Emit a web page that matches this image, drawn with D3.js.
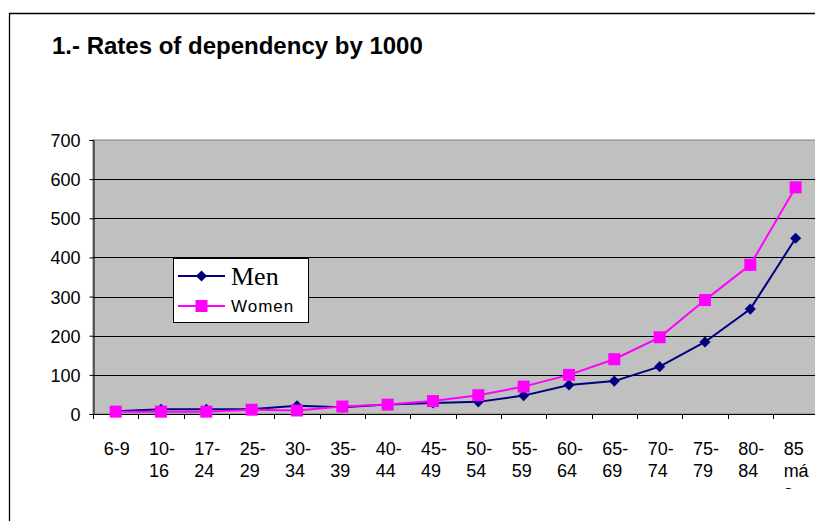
<!DOCTYPE html>
<html>
<head>
<meta charset="utf-8">
<script src="https://cdn.jsdelivr.net/npm/d3@7"></script>
<style>
  body { margin: 0; background: #fff; }
  svg text { font-family: "Liberation Sans", Arial, sans-serif; }
</style>
</head>
<body>
<div id="chart"></div>
<script>
// age groups (labels wrap like the original spreadsheet)
var categories = ["6-9", "10-16", "17-24", "25-29", "30-34", "35-39", "40-44", "45-49",
                  "50-54", "55-59", "60-64", "65-69", "70-74", "75-79", "80-84", "85 más"];
var labelLines = [["6-9"], ["10-", "16"], ["17-", "24"], ["25-", "29"], ["30-", "34"],
                  ["35-", "39"], ["40-", "44"], ["45-", "49"], ["50-", "54"], ["55-", "59"],
                  ["60-", "64"], ["65-", "69"], ["70-", "74"], ["75-", "79"], ["80-", "84"],
                  ["85", "má", "s"]];

var men   = [7, 12, 12, 12, 21, 17, 24, 28, 31, 47, 74, 84, 121, 184, 268, 449];
var women = [6, 6, 6, 11, 9, 19, 24, 33, 48, 70, 100, 140, 196, 291, 381, 579];

var yTicks = [0, 100, 200, 300, 400, 500, 600, 700];

var W = 815, H = 521;
var plot = { left: 93, right: 818.3, top: 140, bottom: 414 };

var svg = d3.select("#chart").append("svg")
    .attr("width", W)
    .attr("height", H);

// outer chart frame
svg.append("path")
    .attr("d", "M9.5," + H + "V13.5H" + W)
    .attr("fill", "none")
    .attr("stroke", "#000")
    .attr("stroke-width", 1.3);

svg.append("text")
    .attr("x", 52)
    .attr("y", 54)
    .style("font-size", "24px")
    .style("font-weight", "bold")
    .text("1.- Rates of dependency by 1000");

var x = d3.scaleBand().domain(categories).range([plot.left, plot.right]);
var y = d3.scaleLinear().domain([0, 700]).range([plot.bottom, plot.top]);

// plot area
svg.append("rect")
    .attr("x", plot.left)
    .attr("y", plot.top)
    .attr("width", plot.right - plot.left)
    .attr("height", plot.bottom - plot.top)
    .attr("fill", "#c0c0c0")
    .attr("stroke", "#808080")
    .attr("stroke-width", 1);

// gridlines
svg.append("g").selectAll("line")
    .data(yTicks.filter(function(d) { return d > 0 && d < 700; }))
    .enter().append("line")
    .attr("x1", plot.left)
    .attr("x2", plot.right)
    .attr("y1", function(d) { return Math.round(y(d)) + 0.5; })
    .attr("y2", function(d) { return Math.round(y(d)) + 0.5; })
    .attr("stroke", "#000")
    .attr("stroke-width", 1);

// y axis
var yAxis = svg.append("g")
    .attr("transform", "translate(" + (plot.left + 0.5) + ",0)")
    .call(d3.axisLeft(y).tickValues(yTicks).tickSize(4).tickPadding(9));
yAxis.select(".domain").attr("stroke", "#000");
yAxis.selectAll("line").attr("stroke", "#000");
yAxis.selectAll("text")
    .attr("dy", "0.36em")
    .style("font-size", "18px")
    .style("font-family", "Liberation Sans, Arial, sans-serif")
    .attr("fill", "#000");

// x axis: ticks at band boundaries
var boundaries = categories.map(function(c) { return x(c); }).concat([plot.right]);
var xAxis = svg.append("g");
xAxis.append("line")
    .attr("x1", plot.left)
    .attr("x2", plot.right)
    .attr("y1", plot.bottom + 0.5)
    .attr("y2", plot.bottom + 0.5)
    .attr("stroke", "#000");
xAxis.selectAll(".tk")
    .data(boundaries)
    .enter().append("line")
    .attr("class", "tk")
    .attr("x1", function(d) { return Math.round(d) + 0.5; })
    .attr("x2", function(d) { return Math.round(d) + 0.5; })
    .attr("y1", plot.bottom)
    .attr("y2", plot.bottom + 5)
    .attr("stroke", "#000");

svg.append("clipPath").attr("id", "lblclip")
    .append("rect").attr("x", 0).attr("y", 0).attr("width", W).attr("height", 489);

var labels = svg.append("g").attr("clip-path", "url(#lblclip)")
    .selectAll("text")
    .data(categories)
    .enter().append("text")
    .attr("x", function(d) { return x(d) + x.bandwidth() / 2 - 12; })
    .attr("y", 455)
    .style("font-size", "18px");
labels.each(function(d, i) {
    var t = d3.select(this);
    labelLines[i].forEach(function(line, j) {
        t.append("tspan")
            .attr("x", x(d) + x.bandwidth() / 2 - 12)
            .attr("y", 455 + j * 21.7)
            .text(line);
    });
});

var line = d3.line()
    .x(function(d, i) { return x(categories[i]) + x.bandwidth() / 2; })
    .y(function(d) { return y(d); });

// square turned 45 degrees, like the spreadsheet diamond
var diamond = d3.symbol().type(d3.symbolSquare).size(62);

// Men
svg.append("path")
    .datum(men)
    .attr("d", line)
    .attr("fill", "none")
    .attr("stroke", "#000080")
    .attr("stroke-width", 2);
svg.append("g").selectAll("path")
    .data(men)
    .enter().append("path")
    .attr("d", diamond)
    .attr("transform", function(d, i) {
        return "translate(" + (x(categories[i]) + x.bandwidth() / 2) + "," + y(d) + ") rotate(45)";
    })
    .attr("fill", "#000080");

// Women
svg.append("path")
    .datum(women)
    .attr("d", line)
    .attr("fill", "none")
    .attr("stroke", "#ff00ff")
    .attr("stroke-width", 2);
svg.append("g").selectAll("rect")
    .data(women)
    .enter().append("rect")
    .attr("x", function(d, i) { return x(categories[i]) + x.bandwidth() / 2 - 6; })
    .attr("y", function(d) { return y(d) - 6; })
    .attr("width", 12)
    .attr("height", 12)
    .attr("fill", "#ff00ff");

// legend
var legend = svg.append("g");
legend.append("rect")
    .attr("x", 173.5)
    .attr("y", 258.5)
    .attr("width", 135)
    .attr("height", 64)
    .attr("fill", "#fff")
    .attr("stroke", "#000")
    .attr("stroke-width", 1);

legend.append("line")
    .attr("x1", 178).attr("x2", 225)
    .attr("y1", 276).attr("y2", 276)
    .attr("stroke", "#000080").attr("stroke-width", 2);
legend.append("path")
    .attr("d", diamond)
    .attr("transform", "translate(201.5,276) rotate(45)")
    .attr("fill", "#000080");
legend.append("text")
    .attr("x", 231)
    .attr("y", 285)
    .style("font-family", "Liberation Serif, 'Times New Roman', serif")
    .style("font-size", "26px")
    .text("Men");

legend.append("line")
    .attr("x1", 178).attr("x2", 225)
    .attr("y1", 306).attr("y2", 306)
    .attr("stroke", "#ff00ff").attr("stroke-width", 2);
legend.append("rect")
    .attr("x", 195.5).attr("y", 300)
    .attr("width", 12).attr("height", 12)
    .attr("fill", "#ff00ff");
legend.append("text")
    .attr("x", 231)
    .attr("y", 312)
    .style("font-size", "17px")
    .style("letter-spacing", "1px")
    .text("Women");
</script>
</body>
</html>
